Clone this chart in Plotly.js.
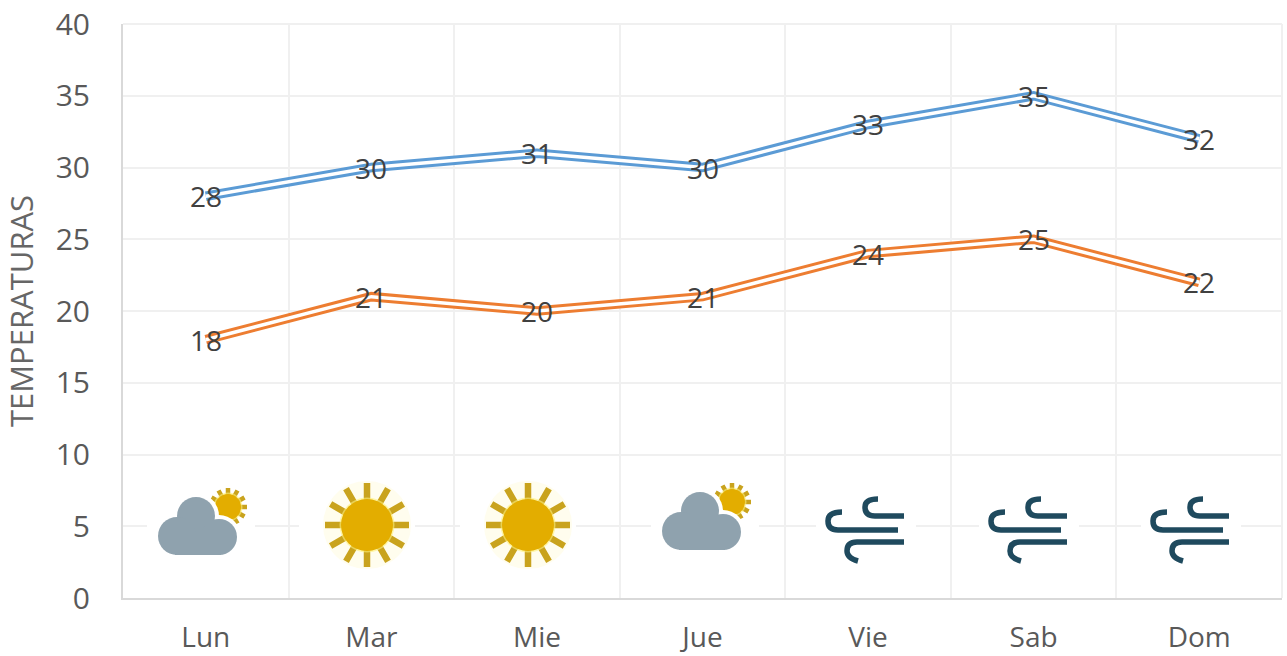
<!DOCTYPE html>
<html>
<head>
<meta charset="utf-8">
<script src="https://cdn.plot.ly/plotly-3.0.1.min.js"></script>
<style>html,body{margin:0;padding:0;background:#fff;overflow:hidden}#c{width:1287px;height:656px}</style>
</head>
<body>
<div id="c"></div>
<script>
const days = ["Lun","Mar","Mie","Jue","Vie","Sab","Dom"];
const highs = [28,30,31,30,33,35,32];
const lows = [18,21,20,21,24,25,22];
const yTicks = [0,5,10,15,20,25,30,35,40];
const icons = ["cloud","sun","sun","cloud","wind","wind","wind"];
const iconCentersPx = [[201,517],[357,525],[518,525],[705,512],[866,530],[1029,530],[1191,530]];

const FONT = "'Open Sans', sans-serif";
const M = {l:123, r:5, t:24, b:58};
const W = 1287, H = 656;
const pxPerCat = (W-M.l-M.r)/7, pxPerY = (H-M.t-M.b)/40;

function sunSvg(cx, cy, rDisc, rRay, ray, halo){
  let s = '';
  let lines = '';
  for(let i=0;i<12;i++){
    const a = i*Math.PI/6;
    lines += `M${(cx+Math.cos(a)*rDisc*0.8).toFixed(1)} ${(cy+Math.sin(a)*rDisc*0.8).toFixed(1)}L${(cx+Math.cos(a)*rRay).toFixed(1)} ${(cy+Math.sin(a)*rRay).toFixed(1)}`;
  }
  if(halo) s += `<circle cx="${cx}" cy="${cy}" r="${rRay+2}" fill="#FFF9C8" opacity="0.3"/>`;
  s += `<path d="${lines}" stroke="#C9A31E" stroke-width="${ray}" fill="none"/>`;
  s += `<circle cx="${cx}" cy="${cy}" r="${rDisc+1.5}" fill="#FFF27A" opacity="0.6"/>`;
  s += `<circle cx="${cx}" cy="${cy}" r="${rDisc}" fill="#E3AD00"/>`;
  return s;
}
const lobes = [[49,44,19],[30,64,19],[72,65,18]];
function cloudBody(fill, grow){
  return lobes.map(l=>`<circle cx="${l[0]}" cy="${l[1]}" r="${l[2]+grow}" fill="${fill}"/>`).join('')
    + `<rect x="${28-grow}" y="${60-grow}" width="${46+2*grow}" height="${23+2*grow}" fill="${fill}"/>`;
}
const svgs = {
  cloud: {w:108,h:90, body:
    `<rect width="108" height="90" fill="#fff"/>` +
    sunSvg(81,35,13,19,4.5,false) + cloudBody('#fff',4) + cloudBody('#8FA2AE',0)},
  sun: {w:116,h:100, body:
    `<rect width="116" height="100" fill="#fff"/>` + sunSvg(68,50,26,42,6.5,true)},
  wind: {w:100,h:90, body:
    `<rect width="100" height="90" fill="#fff"/>` +
    `<g fill="none" stroke="#1F4A5E" stroke-width="5.5">` +
    `<path d="M88 31H59Q49 31 49 22Q49 14 62 14"/>` +
    `<path d="M82 45H22Q12 45 12 36Q12 27 26 27"/>` +
    `<path d="M88 57H41Q31 57 31 66Q31 73 42 76"/></g>`}
};
function uri(k){
  const d = svgs[k];
  return 'data:image/svg+xml;charset=utf-8,' + encodeURIComponent(
    `<svg xmlns="http://www.w3.org/2000/svg" width="${d.w}" height="${d.h}" viewBox="0 0 ${d.w} ${d.h}">${d.body}</svg>`);
}
const images = icons.map((k,i)=>{
  const d = svgs[k], c = iconCentersPx[i];
  return {
    source: uri(k), xref:'x', yref:'y', layer:'above',
    x:(c[0]-M.l)/pxPerCat-0.5, y:(H-M.b-c[1])/pxPerY,
    sizex:d.w/pxPerCat, sizey:d.h/pxPerY,
    xanchor:'center', yanchor:'middle', sizing:'stretch'
  };
});
function dbl(y, color){
  return [
    {x:days,y:y,mode:'lines',line:{color:color,width:9.5},hoverinfo:'skip',showlegend:false},
    {x:days,y:y,mode:'lines',line:{color:'#ffffff',width:3.5},hoverinfo:'skip',showlegend:false}
  ];
}
function labels(y){
  return y.map((v,i)=>({x:days[i],y:v,xref:'x',yref:'y',text:String(v),showarrow:false,
    xanchor:'center',yanchor:'middle',yshift:0,font:{family:FONT,size:28,color:'#404040'}}));
}
const traces = [...dbl(highs,'#5B9BD5'), ...dbl(lows,'#ED7D31')];
const layout = {
  width:W, height:H, margin:M, paper_bgcolor:'#fff', plot_bgcolor:'#fff', showlegend:false,
  images:images,
  annotations:[...labels(highs), ...labels(lows)],
  font:{family:FONT,color:'#595959'},
  shapes:[
    {type:'line',xref:'paper',yref:'paper',x0:1,x1:1,y0:0,y1:1,line:{color:'#F0F0F0',width:2},layer:'below'},
    {type:'line',xref:'paper',yref:'paper',x0:0,x1:1,y0:1,y1:1,line:{color:'#F0F0F0',width:2},layer:'below'}
  ],
  xaxis:{type:'category',categoryorder:'array',categoryarray:days,range:[-0.5,6.5],
    tickson:'boundaries',ticks:'',ticklen:0,ticklabelstandoff:13,showgrid:true,gridcolor:'#F0F0F0',gridwidth:2,
    showline:true,linecolor:'#D9D9D9',linewidth:2,zeroline:false,
    tickfont:{family:FONT,size:28,color:'#595959'},fixedrange:true},
  yaxis:{range:[0,40],tickmode:'array',tickvals:yTicks,ticktext:yTicks.map(String),
    ticks:'outside',ticklen:25,tickcolor:'rgba(0,0,0,0)',showgrid:true,gridcolor:'#F0F0F0',gridwidth:2,
    showline:true,linecolor:'#D9D9D9',linewidth:2,zeroline:false,
    tickfont:{family:FONT,size:30,color:'#595959'},
    title:{text:'TEMPERATURAS',font:{family:FONT,size:31,color:'#666666'},standoff:16},fixedrange:true}
};
Plotly.newPlot('c',traces,layout,{displayModeBar:false,staticPlot:true});
</script>
</body>
</html>
